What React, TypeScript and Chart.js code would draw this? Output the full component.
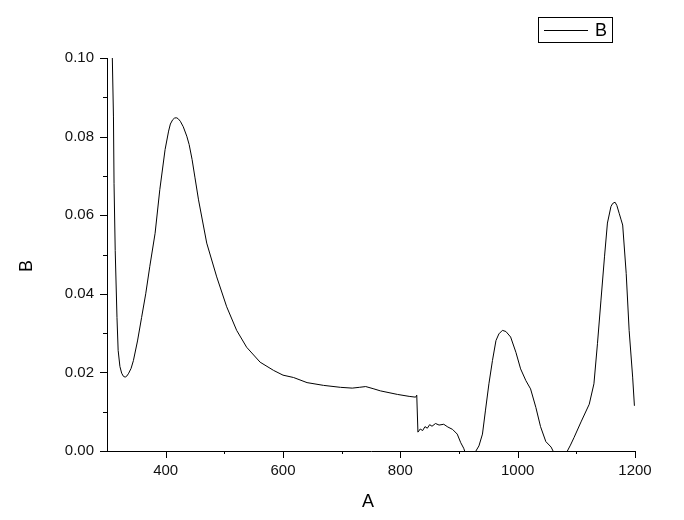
import React, { useEffect, useRef } from "react";
import { Chart, registerables } from "chart.js";

Chart.register(...registerables);

// Spectrum (x = A, y = B)
const xValues: number[] = [
  309, 311, 312, 314, 317, 319, 322, 325, 328, 331, 334, 337, 341, 345, 352, 359, 366, 373, 382, 390,
  399, 405, 408, 412, 415, 418, 421, 425, 430, 436, 440, 445, 450, 456, 470, 487, 504, 521, 538, 561,
  584, 600, 618, 641, 669, 698, 718, 730, 741, 755, 766, 795, 815, 826, 828, 830, 834, 838, 842, 846,
  850, 854, 860, 866, 874, 881, 889, 897, 903, 908, 912, 920, 928, 934, 940, 945, 951, 957, 963, 968,
  974, 980, 988, 997, 1005, 1014, 1022, 1031, 1039, 1048, 1057, 1062, 1072, 1084, 1090, 1096, 1108, 1122, 1130, 1136,
  1142, 1148, 1153, 1159, 1162, 1166, 1169, 1173, 1176, 1179, 1185, 1190, 1196, 1199,
];
const bValues: number[] = [
  0.1005, 0.085, 0.068, 0.051, 0.034, 0.0256, 0.0215, 0.0198, 0.019, 0.0188, 0.0191, 0.0198, 0.021, 0.023, 0.028, 0.034, 0.04, 0.047, 0.0554, 0.0665,
  0.0767, 0.0814, 0.0832, 0.0843, 0.0847, 0.0848, 0.0846, 0.0839, 0.0825, 0.0801, 0.078, 0.0742, 0.0695, 0.0639, 0.0529, 0.0443, 0.0367, 0.0307, 0.0264, 0.0226,
  0.0205, 0.0193, 0.0187, 0.0174, 0.0167, 0.0162, 0.016, 0.0162, 0.0164, 0.0158, 0.0153, 0.0144, 0.0139, 0.0137, 0.0142, 0.0048, 0.0056, 0.0052, 0.0062, 0.0058,
  0.0067, 0.0063, 0.007, 0.0066, 0.0068, 0.0061, 0.0055, 0.0043, 0.0021, 0.0007, -0.001, -0.002, -0.0002, 0.0013, 0.0043, 0.0102, 0.0171, 0.023, 0.0281, 0.0298,
  0.0307, 0.0304, 0.029, 0.0251, 0.0209, 0.0179, 0.0158, 0.0111, 0.0062, 0.0024, 0.001, -0.0005, -0.002, -0.0002, 0.0015, 0.0034, 0.0074, 0.0119, 0.0171, 0.0273,
  0.0384, 0.0494, 0.058, 0.0622, 0.063, 0.0633, 0.0625, 0.0605, 0.059, 0.0575, 0.0452, 0.0307, 0.0188, 0.0115,
];

const seriesName = "B";
const xTitle = "A";
const yTitle = "B";

const xMajorTicks: number[] = [400, 600, 800, 1000, 1200];
const xMinorTicks: number[] = [500, 700, 900, 1100];
const yMajorTicks: number[] = [0, 0.02, 0.04, 0.06, 0.08, 0.1];
const yMinorTicks: number[] = [0.01, 0.03, 0.05, 0.07, 0.09];

const FONT = "'Liberation Sans', Arial, sans-serif";

const tickMarksPlugin = {
  id: "tickMarks",
  afterDraw(chart: any) {
    const { ctx, chartArea, scales } = chart;
    const xs = scales.x;
    const ys = scales.y;
    ctx.save();
    ctx.strokeStyle = "#000";
    ctx.lineWidth = 1;
    ctx.beginPath();
    const bottom = Math.round(chartArea.bottom);
    const left = Math.round(chartArea.left);
    xMajorTicks.forEach((v) => {
      const px = Math.round(xs.getPixelForValue(v)) + 0.5;
      ctx.moveTo(px, bottom);
      ctx.lineTo(px, bottom + 7);
    });
    xMinorTicks.forEach((v) => {
      const px = Math.round(xs.getPixelForValue(v)) + 0.5;
      ctx.moveTo(px, bottom);
      ctx.lineTo(px, bottom + 3);
    });
    yMajorTicks.forEach((v) => {
      const py = Math.round(ys.getPixelForValue(v)) + 0.5;
      ctx.moveTo(left, py);
      ctx.lineTo(left - 7, py);
    });
    yMinorTicks.forEach((v) => {
      const py = Math.round(ys.getPixelForValue(v)) + 0.5;
      ctx.moveTo(left, py);
      ctx.lineTo(left - 4, py);
    });
    ctx.stroke();
    ctx.restore();
  },
};

const titlesAndLegendPlugin = {
  id: "titlesAndLegend",
  afterDraw(chart: any) {
    const { ctx } = chart;
    const ds = chart.data.datasets[0];
    ctx.save();
    // axis titles
    ctx.fillStyle = "#000";
    ctx.font = `18px ${FONT}`;
    ctx.textAlign = "center";
    ctx.textBaseline = "middle";
    ctx.fillText(xTitle, 368, 502);
    ctx.save();
    ctx.translate(27, 266);
    ctx.rotate(-Math.PI / 2);
    ctx.fillText(yTitle, 0, 0);
    ctx.restore();
    // legend
    ctx.strokeStyle = "#000";
    ctx.lineWidth = 1;
    ctx.strokeRect(538.5, 17.5, 74, 25);
    ctx.beginPath();
    ctx.moveTo(544, 30.5);
    ctx.lineTo(588, 30.5);
    ctx.strokeStyle = ds.borderColor;
    ctx.stroke();
    ctx.fillStyle = "#000";
    ctx.textAlign = "left";
    ctx.fillText(ds.label, 595, 31);
    ctx.restore();
  },
};

export default function App() {
  const canvasRef = useRef<HTMLCanvasElement | null>(null);

  useEffect(() => {
    if (!canvasRef.current) return;
    const points = xValues.map((x, i) => ({ x, y: bValues[i] }));
    const chart = new Chart(canvasRef.current, {
      type: "line",
      data: {
        datasets: [
          {
            label: seriesName,
            data: points,
            borderColor: "#000",
            borderWidth: 1,
            pointRadius: 0,
            tension: 0,
            fill: false,
          },
        ],
      },
      options: {
        animation: false,
        responsive: false,
        events: [],
        layout: { padding: { top: 58, right: 49, bottom: 0, left: 0 } },
        plugins: {
          legend: { display: false },
          tooltip: { enabled: false },
        },
        scales: {
          x: {
            type: "linear",
            min: 300,
            max: 1200,
            afterFit: (s: any) => {
              s.height = 69;
            },
            afterBuildTicks: (s: any) => {
              s.ticks = xMajorTicks.map((v) => ({ value: v }));
            },
            grid: { display: false, drawTicks: false },
            border: { display: true, color: "#000", width: 1 },
            ticks: {
              padding: 11,
              color: "#111",
              font: { family: FONT, size: 15 },
              maxRotation: 0,
              callback: (v: any) => String(v),
            },
            title: { display: false },
          },
          y: {
            type: "linear",
            min: 0,
            max: 0.1,
            afterFit: (s: any) => {
              s.width = 107;
            },
            afterBuildTicks: (s: any) => {
              s.ticks = yMajorTicks.map((v) => ({ value: v }));
            },
            grid: { display: false, drawTicks: false },
            border: { display: true, color: "#000", width: 1 },
            ticks: {
              padding: 13,
              color: "#111",
              font: { family: FONT, size: 15 },
              callback: (v: any) => Number(v).toFixed(2),
            },
            title: { display: false },
          },
        },
      },
      plugins: [tickMarksPlugin, titlesAndLegendPlugin],
    });
    return () => chart.destroy();
  }, []);

  return (
    <div style={{ position: "absolute", left: 0, top: 0, width: 684, height: 520, background: "#fff" }}>
      <canvas ref={canvasRef} width={684} height={520} />
    </div>
  );
}
